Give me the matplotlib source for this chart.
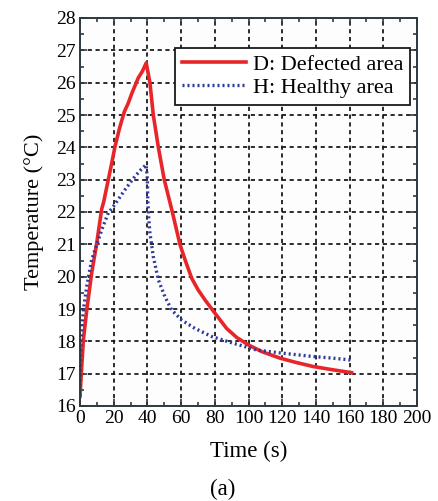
import matplotlib
matplotlib.use("Agg")
import matplotlib.pyplot as plt
from matplotlib.ticker import MultipleLocator

plt.rcParams['font.family'] = ['Liberation Serif', 'DejaVu Serif']

# Defected area (red, solid)
t_def = [0, 1, 2, 4, 6.9, 9.9, 12.9, 14, 16.8, 18.4, 20.8, 23.5, 26.3, 28.5, 31, 34.6, 37, 39.3,
         41.5, 43.5, 46.5, 50, 54.8, 59.3, 62.5, 66.3, 70, 74.2, 80.1, 87, 93, 99.9, 108,
         118.7, 128, 138.5, 150, 161.2]
T_def = [16.3, 17.2, 18.04, 18.97, 20.1, 21.03, 22.1, 22.3, 23.0, 23.4, 24.03, 24.6, 25.1, 25.35, 25.7, 26.15, 26.35, 26.61,
         26.0, 25.0, 24.0, 23.0, 22.0, 21.0, 20.5, 19.95, 19.6, 19.28, 18.87, 18.4, 18.12, 17.89, 17.68,
         17.48, 17.35, 17.22, 17.12, 17.03]

# Healthy area (blue, dotted)
t_hea = [0, 0.1, 0.6, 2, 4, 6.9, 10.9, 12.9, 16.8, 19.8, 26.7, 32.6, 36, 39.2, 40.0, 40.2, 40.8, 41.5,
         43.5, 46.5, 50.4, 54.4, 60.3, 68.2, 78.1, 91, 104.9, 120.7, 138.5, 150, 161.2]
T_hea = [16.3, 17.0, 18.04, 18.97, 19.7, 20.52, 21.14, 21.45, 21.97, 22.17, 22.69, 23.1, 23.3, 23.46, 23.0, 22.4, 21.8, 21.35,
         20.62, 19.9, 19.38, 18.97, 18.66, 18.4, 18.15, 17.94, 17.73, 17.63, 17.53, 17.48, 17.42]

fig = plt.figure(figsize=(4.38, 5.01), dpi=100)
ax = fig.add_axes([80 / 438, 95 / 501, 337 / 438, 388 / 501])
ax.set_facecolor('#fdfdfd')

ax.plot(t_def, T_def, color='#e8262a', lw=2.6, label='D: Defected area')
ax.plot(t_hea, T_hea, color='#2b3a9c', lw=2.4, linestyle=(0, (0.6, 0.9)), label='H: Healthy area')

ax.set_xlim(0, 200)
ax.set_ylim(16, 28)
ax.xaxis.set_major_locator(MultipleLocator(20))
ax.xaxis.set_minor_locator(MultipleLocator(10))
ax.yaxis.set_major_locator(MultipleLocator(1))
ax.yaxis.set_minor_locator(MultipleLocator(0.5))
ax.tick_params(which='both', direction='in', top=True, right=True, color='#2f3a40')
ax.tick_params(which='major', length=5, width=1.2, labelsize=14, pad=3)
ax.tick_params(which='minor', length=3, width=1.2)
for s in ax.spines.values():
    s.set_color('#2f3a40')
    s.set_linewidth(1.4)

ax.grid(True, which='major', color='#1a1a1a', linestyle=(0, (2.3, 2.0)), linewidth=1.3)

ax.set_xlabel('Time (s)', fontsize=16.5, labelpad=10)
ax.set_ylabel('Temperature (°C)', fontsize=16, labelpad=9)

leg = ax.legend(loc='upper right', bbox_to_anchor=(0.979, 0.923), fontsize=16,
                fancybox=False, framealpha=1, edgecolor='#1a1a1a',
                handlelength=2.9, borderpad=0.3, labelspacing=0.1, handletextpad=0.3,
                borderaxespad=0)
leg.get_frame().set_linewidth(1.3)

fig.text(223 / 438, 1 - 489 / 501, '(a)', ha='center', va='center', fontsize=16.5)

fig.savefig('out.png', dpi=100)
